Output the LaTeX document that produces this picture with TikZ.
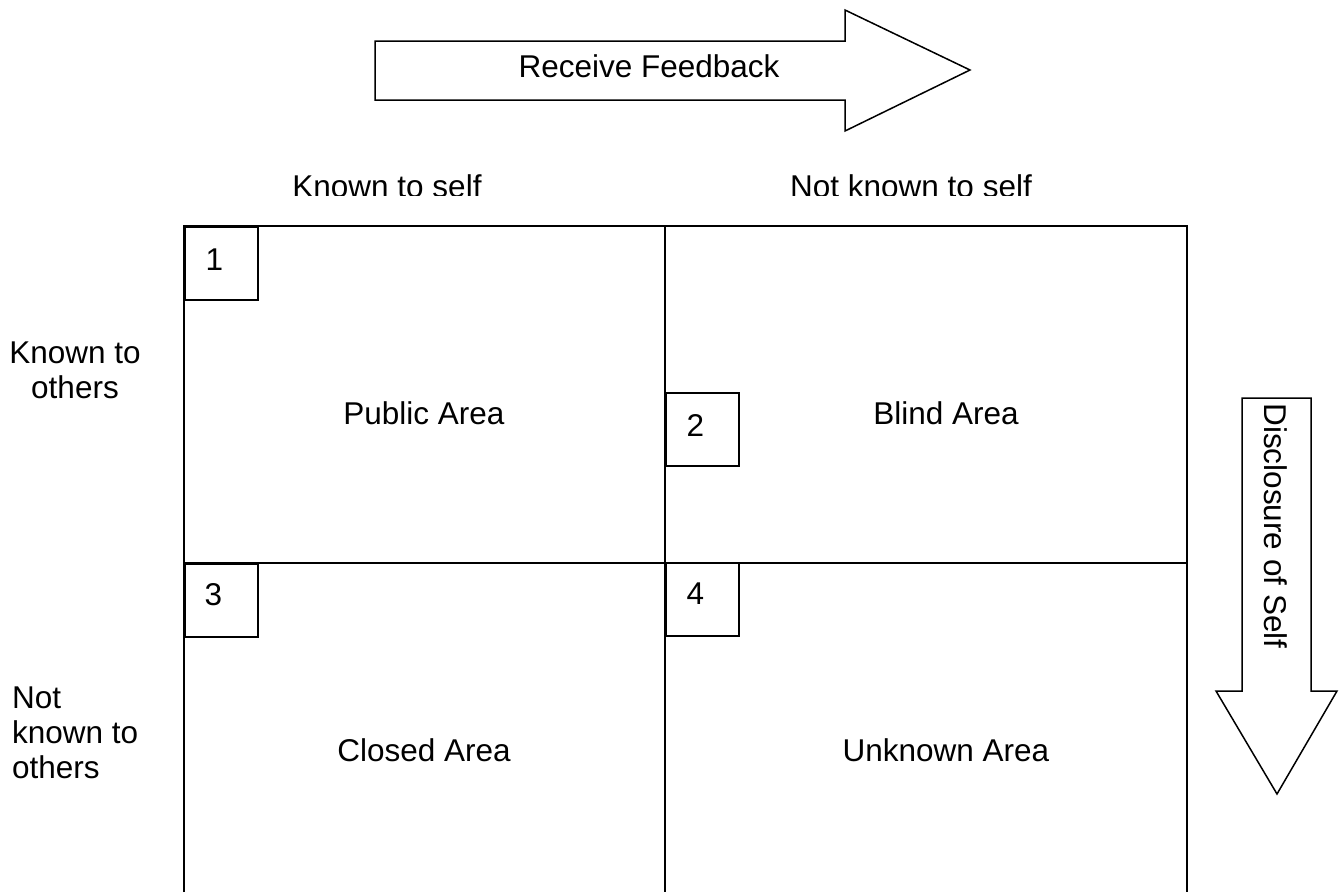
\documentclass[tikz,border=0pt]{standalone}
\usepackage{fontspec}
\setmainfont{Liberation Sans}
\begin{document}
\begin{tikzpicture}[x=1pt,y=-1pt,
  lbl/.style={font=\fontsize{31.5}{35}\selectfont, inner sep=0pt},
  gridline/.style={line width=2.8pt},
  numbox/.style={draw, line width=2pt, minimum width=73pt, minimum height=73pt,
    inner sep=0pt, anchor=north west},
  numtxt/.style={font=\fontsize{31.5}{35}\selectfont, inner sep=0pt},
  bigarrow/.style={draw, line width=1.5pt, fill=white, line join=miter}]
\useasboundingbox (0,0) rectangle (1342,892);

% quadrant grid (open at the bottom)
\coordinate (tl) at (184,226);
\coordinate (tm) at (665,226);
\coordinate (tr) at (1187,226);
\coordinate (bl) at (184,892);
\coordinate (bm) at (665,892);
\coordinate (br) at (1187,892);
\coordinate (ml) at (184,563);
\coordinate (mr) at (1187,563);
\draw[gridline] (bl) -- (tl) -- (tr) -- (br);
\draw[gridline] (tm) -- (bm);
\draw[gridline] (ml) -- (mr);

% numbered corner boxes, digits set a little up and to the left
\node[numbox] (n1) at (184,226) {};
\node[numbox] (n2) at (665,392) {};
\node[numbox] (n3) at (184,563) {};
\node[numbox] (n4) at (665,562) {};
\node[numtxt] (d1) at ([shift={(-7,-4)}]n1.center) {1};
\node[numtxt] (d2) at ([shift={(-7,-4)}]n2.center) {2};
\node[numtxt] (d3) at ([shift={(-8,-6)}]n3.center) {3};
\node[numtxt] (d4) at ([shift={(-7,-6)}]n4.center) {4};

% quadrant titles
\node[lbl] (pub) at (424,413) {Public Area};
\node[lbl] (bli) at (946,413) {Blind Area};
\node[lbl] (clo) at (424,750) {Closed Area};
\node[lbl] (unk) at (946,750) {Unknown Area};

% column headings, their lower edge trimmed by the text frame
\begin{scope}
  \clip (0,150) rectangle (1342,195);
  \node[lbl] (kself) at (387,186) {Known to self};
  \node[lbl] (nkself) at (911,186) {Not known to self};
\end{scope}

% row headings
\node[lbl, align=center, anchor=north] (kothers) at (75,342) {Known to\\ others};
\node[lbl, align=left, anchor=north west] (nkothers) at (12,687) {Not\\known to\\others};

% feedback arrow
\draw[bigarrow] (375,41) -- (845,41) -- (845,10) -- (970,70) -- (845,131)
  -- (845,100) -- (375,100) -- cycle;
\node[lbl] (fb) at (649,66) {Receive Feedback};

% disclosure arrow
\draw[bigarrow] (1242,398) -- (1311,398) -- (1311,691) -- (1337,691)
  -- (1277,794) -- (1216,691) -- (1242,691) -- cycle;
\node[lbl, rotate=-90] (disc) at (1276,526) {Disclosure of Self};
\end{tikzpicture}
\end{document}
